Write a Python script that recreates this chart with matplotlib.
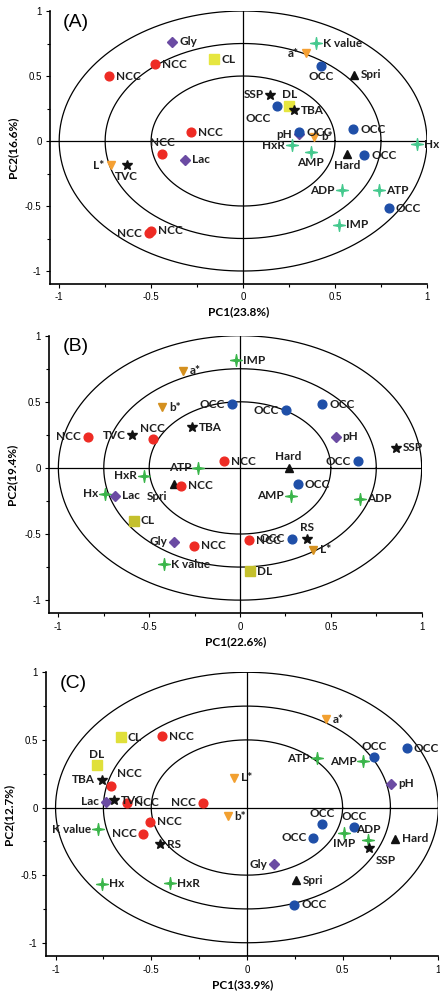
import numpy as np
import matplotlib.pyplot as plt
from matplotlib.path import Path
from matplotlib.ticker import MultipleLocator, FuncFormatter

# ---- loadings, panel A ----
a_names = ["Gly", "NCC", "NCC", "CL", "NCC", "NCC", "Lac", "L*", "TVC", "NCC", "NCC",
           "K value", "a*", "OCC", "Spri", "SSP", "DL", "OCC", "TBA", "OCC", "pH", "OCC",
           "b*", "HxR", "Hx", "AMP", "Hard", "OCC", "ADP", "ATP", "OCC", "IMP"]
a_pc1 = [-0.386, -0.477, -0.727, -0.156, -0.283, -0.439, -0.317, -0.717, -0.632, -0.511, -0.50,
         0.397, 0.342, 0.426, 0.603, 0.149, 0.252, 0.183, 0.279, 0.60, 0.304, 0.306,
         0.386, 0.265, 0.944, 0.368, 0.565, 0.659, 0.536, 0.741, 0.792, 0.522]
a_pc2 = [0.764, 0.59, 0.498, 0.63, 0.069, -0.10, -0.146, -0.185, -0.185, -0.71, -0.69,
         0.751, 0.674, 0.579, 0.508, 0.354, 0.272, 0.269, 0.238, 0.09, 0.051, 0.069,
         0.033, -0.031, -0.026, -0.082, -0.10, -0.108, -0.377, -0.377, -0.518, -0.646]
a_place = ["r", "r", "r", "r", "r", "a", "r", "l", "b", "l", "r",
           "r", "l", "b", "r", "l", "a", (-13, -9), "r", "r", "l", "r",
           "r", "l", "r", "b", "b", "r", "l", "r", "r", "r"]

# ---- loadings, panel B ----
b_names = ["a*", "b*", "NCC", "TVC", "NCC", "TBA", "OCC", "IMP", "OCC", "OCC", "pH",
           "SSP", "NCC", "Hard", "OCC", "ATP", "HxR", "Spri", "NCC", "Hx", "Lac", "CL",
           "Gly", "NCC", "K value", "OCC", "AMP", "ADP", "RS", "NCC", "OCC", "L*", "DL"]
b_pc1 = [-0.315, -0.429, -0.839, -0.592, -0.48, -0.267, -0.044, -0.022, 0.254, 0.452, 0.526,
         0.857, -0.088, 0.267, 0.65, -0.229, -0.527, -0.363, -0.324, -0.742, -0.689, -0.586,
         -0.364, -0.254, -0.416, 0.317, 0.28, 0.661, 0.368, 0.049, 0.287, 0.403, 0.055]
b_pc2 = [0.733, 0.457, 0.235, 0.248, 0.215, 0.306, 0.48, 0.813, 0.437, 0.482, 0.235,
         0.154, 0.051, 0.0, 0.051, 0.003, -0.058, -0.118, -0.136, -0.194, -0.212, -0.401,
         -0.558, -0.588, -0.73, -0.123, -0.212, -0.235, -0.535, -0.548, -0.535, -0.618, -0.783]
b_place = ["r", "r", "l", "l", "a", "r", "l", "r", "l", "r", "r",
           "r", "r", "a", "l", "l", "l", (-12, -9), "r", "l", "r", "r",
           "l", "r", "r", "r", "l", "r", "a", "r", "l", "r", "r"]

# ---- loadings, panel C ----
c_names = ["CL", "NCC", "DL", "TBA", "NCC", "Lac", "TVC", "NCC", "NCC", "NCC", "NCC",
           "K value", "RS", "Hx", "HxR", "a*", "OCC", "OCC", "ATP", "AMP", "pH", "L*",
           "b*", "OCC", "ADP", "OCC", "OCC", "IMP", "SSP", "Hard", "Gly", "Spri", "OCC"]
c_pc1 = [-0.658, -0.445, -0.784, -0.759, -0.71, -0.735, -0.695, -0.625, -0.229, -0.506, -0.541,
         -0.777, -0.452, -0.756, -0.403, 0.414, 0.834, 0.666, 0.364, 0.609, 0.754, -0.066,
         -0.101, 0.391, 0.635, 0.558, 0.347, 0.506, 0.64, 0.773, 0.143, 0.256, 0.248]
c_pc2 = [0.521, 0.526, 0.312, 0.206, 0.157, 0.042, 0.054, 0.035, 0.035, -0.106, -0.194,
         -0.162, -0.27, -0.565, -0.56, 0.654, 0.44, 0.373, 0.366, 0.341, 0.175, 0.219,
         -0.064, -0.125, -0.243, -0.145, -0.223, -0.187, -0.297, -0.231, -0.42, -0.538, -0.72]
c_place = ["r", "r", "a", "l", (13, 9), "l", "r", "r", "l", "r", "l",
           "l", "r", "r", "r", "r", "r", "a", "l", "l", "r", "r",
           "r", "a", "a", "a", "l", "b", (12, -9), "r", "l", "r", "r"]

# thin four-pointed marker used for the nucleotide variables
ang = np.pi / 2 + np.arange(8) * np.pi / 4
rad = np.where(np.arange(8) % 2 == 0, 1.0, 0.22)
verts = np.column_stack([rad * np.cos(ang), rad * np.sin(ang)])
spark = Path(np.vstack([verts, verts[:1]]),
             [Path.MOVETO] + [Path.LINETO] * 7 + [Path.CLOSEPOLY])

groups = {
    "NCC": "ncc", "OCC": "occ", "pH": "dia", "Gly": "dia", "Lac": "dia",
    "CL": "sq", "DL": "sq", "L*": "tri", "a*": "tri", "b*": "tri",
    "TVC": "star", "TBA": "star", "SSP": "star", "RS": "star",
    "Spri": "up", "Hard": "up",
    "ATP": "nuc", "ADP": "nuc", "AMP": "nuc", "IMP": "nuc", "HxR": "nuc",
    "Hx": "nuc", "K value": "nuc",
}


def style(grp, pal):
    return {
        "ncc": ("o", "#ee2b24", 6.3),
        "occ": ("o", "#1f4fa8", 6.3),
        "dia": ("D", "#6b4ba3", 5),
        "sq": ("s", pal["sq"], 6.5),
        "tri": ("v", pal["tri"], 6.3),
        "star": ("*", "#111111", 7.5),
        "up": ("^", "#111111", 5.5),
        "nuc": (spark, pal["nuc"], 8.5),
    }[grp]


lab_font = dict(family=["Lato", "DejaVu Sans"], fontweight="bold", fontsize=8.5, color="#1e1e1e")


def draw_panel(ax, names, pc1, pc2, place, xlab, ylab, tag, pal):
    t = np.linspace(0, 2 * np.pi, 500)
    for r in (0.5, 0.75, 1.0):
        ax.plot(r * np.cos(t), r * np.sin(t), color="k", lw=0.9, zorder=1)
    ax.axhline(0, color="k", lw=0.9, zorder=1)
    ax.axvline(0, color="k", lw=0.9, zorder=1)

    for n, x, y, p in zip(names, pc1, pc2, place):
        mk, col, ms = style(groups[n], pal)
        ax.plot(x, y, marker=mk, color=col, mec=col, ms=ms, ls="none", zorder=3)
        if p == "r":
            off, ha, va = (5, 0), "left", "center"
        elif p == "l":
            off, ha, va = (-5, 0), "right", "center"
        elif p == "a":
            off, ha, va = (0, 4), "center", "bottom"
        elif p == "b":
            off, ha, va = (0, -4), "center", "top"
        else:
            off, ha, va = p, "center", "center"
        ax.annotate(n, (x, y), xytext=off, textcoords="offset points",
                    ha=ha, va=va, zorder=4, **lab_font)

    ax.set_xlim(-1.05, 1.0)
    ax.set_ylim(-1.1, 1.0)
    for s in ("top", "right"):
        ax.spines[s].set_visible(False)
    for s in ("left", "bottom"):
        ax.spines[s].set_linewidth(1.2)
    for axis in (ax.xaxis, ax.yaxis):
        axis.set_major_locator(MultipleLocator(0.5))
        axis.set_minor_locator(MultipleLocator(0.25))
        axis.set_major_formatter(FuncFormatter(lambda v, _: "%g" % v))
    ax.tick_params(which="major", length=3, width=0.8, labelsize=7, pad=3)
    ax.tick_params(which="minor", length=2, width=0.8)
    ax.set_xlabel(xlab, fontsize=8.5, fontweight="bold", family=["Lato", "DejaVu Sans"], labelpad=3)
    ax.set_ylabel(ylab, fontsize=8.5, fontweight="bold", family=["Lato", "DejaVu Sans"], labelpad=5)
    ax.text(0.035, 0.99, tag, transform=ax.transAxes, fontsize=14,
            family="Liberation Sans", ha="left", va="top")


plt.rcParams["font.family"] = ["Liberation Sans", "DejaVu Sans"]
fig = plt.figure(figsize=(4.4, 9.92), dpi=100)

ax_a = fig.add_axes([0.1136, 0.7137, 0.8568, 0.2752])
ax_b = fig.add_axes([0.1120, 0.3817, 0.8464, 0.2799])
ax_c = fig.add_axes([0.1045, 0.0360, 0.8916, 0.2863])

draw_panel(ax_a, a_names, a_pc1, a_pc2, a_place, "PC1(23.8%)", "PC2(16.6%)", "(A)",
           {"sq": "#e6e640", "tri": "#f5a033", "nuc": "#45c98e"})
draw_panel(ax_b, b_names, b_pc1, b_pc2, b_place, "PC1(22.6%)", "PC2(19.4%)", "(B)",
           {"sq": "#c4c02c", "tri": "#d4901f", "nuc": "#3ab54a"})
draw_panel(ax_c, c_names, c_pc1, c_pc2, c_place, "PC1(33.9%)", "PC2(12.7%)", "(C)",
           {"sq": "#e0e03a", "tri": "#f2a030", "nuc": "#3ab54a"})

fig.savefig("out.png", dpi=100)
